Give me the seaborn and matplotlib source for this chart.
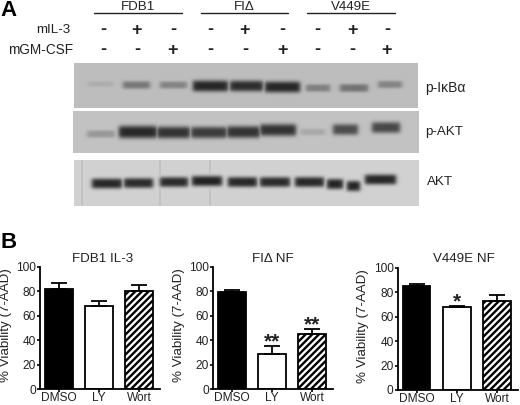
import numpy as np
import pandas as pd
import matplotlib
matplotlib.use("Agg")
import matplotlib.pyplot as plt
import seaborn as sns

W, H = 520, 405

# western blot band strength per lane (0 = no band, 1 = black)
ikb_strength = [0.10, 0.42, 0.35, 0.92, 0.88, 0.92, 0.38, 0.45, 0.35]
pakt_strength = [0.25, 0.92, 0.85, 0.80, 0.85, 0.85, 0.15, 0.70, 0.72]
akt_strength = [0.92, 0.90, 0.90, 0.95, 0.92, 0.90, 0.92, 0.95, 0.95, 0.92]

# signs above the lanes
il3_signs = ["-", "+", "-", "-", "+", "-", "-", "+", "-"]
gm_signs = ["-", "-", "+", "-", "-", "+", "-", "-", "+"]
group_names = ["FDB1", "FI\u0394", "V449E"]
blot_names = ["p-I\u03baB\u03b1", "p-AKT", "AKT"]

# viability bars
treatments = ["DMSO", "LY", "Wort"]
fdb1_vals = [82, 68, 80]
fdb1_err = [5, 4, 5]
fi_vals = [79, 29, 45]
fi_err = [2, 6, 4]
v449_vals = [85, 68, 72.5]
v449_err = [2, 1, 5]
fi_stars = ["", "**", "**"]
v449_stars = ["", "*", ""]

# where the lanes sit, in reference pixels
lane_x = [103, 137, 173, 210, 245, 282, 317, 352, 387]
ikb_bands = [(88, 113, 84), (123, 150, 85), (160, 187, 85), (193, 228, 86), (230, 263, 86),
             (265, 300, 87), (306, 330, 88), (340, 368, 88), (378, 402, 84.5)]
pakt_bands = [(87, 115, 134), (119, 157, 132), (157, 190, 132.5), (191, 227, 132.5), (227, 260, 132),
              (260, 296, 130), (300, 325, 132), (333, 358, 129.5), (372, 400, 127.5)]
akt_bands = [(92, 122, 183.5), (124, 153, 183), (160, 188, 182), (192, 222, 181), (228, 257, 182),
             (260, 290, 182), (295, 324, 182), (327, 343, 184), (347, 360, 186), (365, 396, 179.5)]
akt_streaks = [82, 160, 210]

sns.set_theme(style="white")
plt.rcParams["font.family"] = ["Liberation Sans", "DejaVu Sans"]
plt.rcParams["hatch.linewidth"] = 1.7

fig = plt.figure(figsize=(W / 100, H / 100), dpi=100)
fig.patch.set_facecolor("white")


def px_axes(x0, y0, x1, y1):
    return fig.add_axes([x0 / W, 1 - y1 / H, (x1 - x0) / W, (y1 - y0) / H])


def px_text(x, y, s, **kw):
    kw.setdefault("ha", "center")
    kw.setdefault("va", "center")
    kw.setdefault("color", "#222222")
    fig.text(x / W, 1 - y / H, s, **kw)


def draw_blot(x0, y0, x1, y1, bands, strength, bg, half_h, streaks=()):
    xx, yy = np.meshgrid(np.arange(x0, x1) + 0.5, np.arange(y0, y1) + 0.5)
    dark = np.zeros(xx.shape)
    for sx in streaks:
        dark = np.maximum(dark, 0.12 * np.exp(-((xx - sx) / 0.8) ** 2))
    for (left, right, mid), s in zip(bands, strength):
        across = 0.25 * (1 + np.tanh((xx - left) / 2.5)) * (1 + np.tanh((right - xx) / 2.5))
        thick = half_h * (0.55 + 0.75 * s)
        dark = np.maximum(dark, s * across * np.exp(-np.abs((yy - mid) / thick) ** 3))
    img = bg * (1 - dark) + 0.1 * dark
    ax = px_axes(x0, y0, x1, y1)
    sns.heatmap(pd.DataFrame(img), ax=ax, cmap="gray", vmin=0, vmax=1, cbar=False,
                xticklabels=False, yticklabels=False)


draw_blot(74, 63, 418, 108, ikb_bands, ikb_strength, 0.74, 4.6)
draw_blot(73, 111, 419, 153, pakt_bands, pakt_strength, 0.76, 5.2)
draw_blot(74, 160, 419, 206, akt_bands, akt_strength, 0.82, 4.2, akt_streaks)

# panel A labels
px_text(0, 10, "A", ha="left", fontsize=16, fontweight="bold", color="black")
px_text(0, 242, "B", ha="left", fontsize=16, fontweight="bold", color="black")
line_ax = px_axes(0, 0, W, H)
line_ax.set_xlim(0, W)
line_ax.set_ylim(H, 0)
line_ax.axis("off")
for name, (a, b) in zip(group_names, [(94, 182), (201, 288), (307, 395)]):
    line_ax.plot([a, b], [12.5, 12.5], color="#222222", lw=1.0)
    px_text((a + b) / 2, 6.5, name, fontsize=9.6)
px_text(70, 30, "mIL-3", ha="right", fontsize=9.6)
px_text(73, 50, "mGM-CSF", ha="right", fontsize=9.8)
for x, a, b in zip(lane_x, il3_signs, gm_signs):
    px_text(x, 30, a, fontsize=13, fontweight="bold")
    px_text(x, 50, b, fontsize=13, fontweight="bold")
for (x, y), name, size in zip([(425, 88), (425, 132), (427, 182)], blot_names, [10, 9.6, 9.6]):
    px_text(x, y, name, ha="left", fontsize=size)


def draw_bars(box, title, title_x, vals, errs, stars=None):
    ax = px_axes(*box)
    df = pd.DataFrame({"treatment": treatments, "viability": vals})
    sns.barplot(data=df, x="treatment", y="viability", hue="treatment", order=treatments,
                palette={"DMSO": "black", "LY": "white", "Wort": "white"}, legend=False,
                width=0.68, edgecolor="black", linewidth=1.3, ax=ax)
    ax.patches[2].set_hatch("/////")
    ax.errorbar(range(3), vals, yerr=[[0, 0, 0], errs], fmt="none", ecolor="black",
                elinewidth=1.3, capsize=6, capthick=1.3)
    ax.set_xlim(-0.47, 2.52)
    ax.set_ylim(0, 100)
    ax.set_yticks(range(0, 101, 20))
    ax.set_xlabel("")
    ax.set_ylabel("% Viability (7-AAD)", fontsize=9.6, color="#222222")
    ax.yaxis.set_label_coords(-0.235, 0.52)
    ax.tick_params(axis="both", bottom=True, left=True, length=2.5, width=1.2, pad=0.5,
                   labelsize=8.6, labelcolor="#222222", color="black")
    ax.tick_params(axis="x", pad=0)
    sns.despine(ax=ax)
    for side in ["left", "bottom"]:
        ax.spines[side].set_linewidth(1.3)
        ax.spines[side].set_color("black")
    ax.patch.set_alpha(0)
    if stars:
        for i, s in enumerate(stars):
            if s:
                ax.text(i, vals[i] + errs[i] - 4.5, s, ha="center", va="bottom",
                        fontsize=15, fontweight="bold", color="#222222")
    px_text(title_x, 258.5, title, fontsize=9.6)


draw_bars((40, 266.7, 160, 389), "FDB1 IL-3", 103, fdb1_vals, fdb1_err)
draw_bars((213, 266.7, 333, 389), "FI\u0394 NF", 273, fi_vals, fi_err, fi_stars)
draw_bars((397.7, 267.7, 518, 390), "V449E NF", 464, v449_vals, v449_err, v449_stars)

fig.savefig("out.png", dpi=100, facecolor="white")
